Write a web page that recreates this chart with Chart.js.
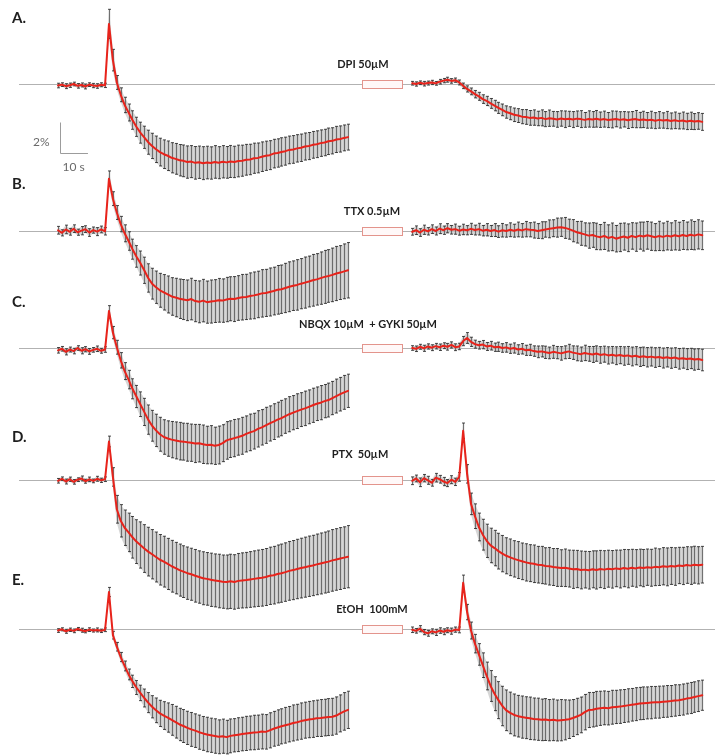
<!DOCTYPE html>
<html>
<head>
<meta charset="utf-8">
<title>Stimulus responses before / with drug</title>
<script src="https://cdn.jsdelivr.net/npm/chart.js@4.4.1/dist/chart.umd.min.js"></script>
<style>
    html, body { margin: 0; padding: 0; background: #ffffff; overflow: hidden; }
    #wrap { position: relative; width: 715px; height: 755px; }
</style>
</head>
<body>
<div id="wrap"><canvas id="traces" width="715" height="755"></canvas></div>
<script>
// sampling interval (s); the recording with drug starts later on the same time axis
const DT = 1.4;
const RIGHT_T0 = 126.5;
const DRUG_ON = 108.6;
const DRUG_OFF = 122.9;

const panels = ['A.', 'B.', 'C.', 'D.', 'E.'];
const drugs = ['DPI 50µM', 'TTX 0.5µM', 'NBQX 10µM  + GYKI 50µM', 'PTX  50µM', 'EtOH  100mM'];

// mean change (%) and error, left = control recording, right = with drug
const aLeft = [-0.10,-0.04,-0.14,-0.08,0.00,-0.12,-0.06,-0.16,-0.04,-0.10,-0.13,-0.05,-0.09,
    3.90,1.55,0.10,-0.70,-1.36,-1.85,-2.34,-2.78,-3.16,-3.46,-3.78,-4.02,-4.24,-4.42,-4.56,-4.66,-4.79,-4.86,
    -4.95,-4.99,-5.07,-5.04,-5.12,-5.08,-5.14,-5.10,-5.13,-5.06,-5.11,-5.05,-5.09,-5.03,-5.06,-5.00,-4.98,-4.92,
    -4.90,-4.82,-4.80,-4.72,-4.66,-4.62,-4.52,-4.48,-4.41,-4.36,-4.28,-4.25,-4.18,-4.14,-4.06,-4.03,-3.95,-3.91,
    -3.84,-3.80,-3.72,-3.69,-3.60,-3.57,-3.50,-3.45];
const aLeftErr = [0.15,0.12,0.16,0.14,0.12,0.15,0.13,0.16,0.12,0.14,0.15,0.13,0.14,
    0.95,0.70,0.45,0.45,0.50,0.55,0.60,0.62,0.68,0.72,0.78,0.82,0.86,0.90,0.93,0.96,0.98,1.00,1.02,1.03,
    1.05,1.04,1.06,1.05,1.07,1.06,1.05,1.06,1.04,1.05,1.03,1.04,1.02,1.03,1.01,1.00,0.99,0.98,0.97,0.96,
    0.95,0.94,0.93,0.92,0.92,0.91,0.90,0.90,0.89,0.89,0.88,0.88,0.87,0.87,0.86,0.86,0.86,0.85,0.85,0.85,0.84,0.84];
const aRight = [0.05,0.00,0.08,0.02,0.06,0.10,0.04,0.15,0.22,0.28,0.20,0.25,0.10,
    -0.12,-0.32,-0.48,-0.66,-0.80,-0.98,-1.10,-1.26,-1.40,-1.55,-1.68,-1.82,-1.90,-2.00,-2.05,-2.12,-2.14,-2.20,
    -2.18,-2.24,-2.20,-2.28,-2.22,-2.26,-2.30,-2.24,-2.29,-2.26,-2.31,-2.25,-2.28,-2.33,-2.27,-2.30,-2.26,-2.32,
    -2.28,-2.34,-2.30,-2.27,-2.33,-2.29,-2.35,-2.31,-2.28,-2.34,-2.30,-2.36,-2.32,-2.38,-2.33,-2.37,-2.34,-2.40,
    -2.36,-2.41,-2.37,-2.43,-2.39,-2.44,-2.40,-2.46];
const aRightErr = [0.12,0.14,0.12,0.15,0.13,0.14,0.12,0.15,0.14,0.16,0.15,0.14,0.16,
    0.18,0.20,0.22,0.24,0.26,0.28,0.30,0.32,0.34,0.36,0.38,0.40,0.42,0.44,0.45,0.46,0.48,0.48,
    0.50,0.47,0.52,0.49,0.53,0.48,0.51,0.50,0.54,0.49,0.52,0.50,0.55,0.48,0.53,0.51,0.54,0.50,0.52,0.49,
    0.55,0.51,0.53,0.50,0.54,0.52,0.56,0.50,0.53,0.51,0.55,0.52,0.54,0.50,0.56,0.52,0.54,0.51,0.55,0.53,
    0.56,0.52,0.54,0.55];

const bLeft = [0.05,-0.12,0.10,-0.05,0.15,-0.08,0.02,0.12,-0.10,0.06,-0.04,0.10,-0.02,
    3.40,2.10,1.20,0.45,-0.15,-0.65,-1.18,-1.65,-2.08,-2.55,-3.05,-3.42,-3.65,-3.85,-3.98,-4.12,-4.25,-4.32,
    -4.40,-4.45,-4.50,-4.42,-4.55,-4.60,-4.52,-4.62,-4.58,-4.55,-4.50,-4.52,-4.45,-4.40,-4.42,-4.35,-4.30,-4.28,
    -4.22,-4.18,-4.12,-4.05,-4.02,-3.96,-3.90,-3.82,-3.78,-3.70,-3.62,-3.55,-3.50,-3.42,-3.35,-3.28,-3.20,-3.14,
    -3.06,-2.98,-2.92,-2.85,-2.76,-2.70,-2.62,-2.55];
const bLeftErr = [0.25,0.20,0.28,0.22,0.25,0.20,0.27,0.22,0.25,0.20,0.26,0.22,0.24,
    0.50,0.45,0.45,0.50,0.55,0.60,0.65,0.70,0.78,0.85,0.92,1.00,1.05,1.10,1.15,1.20,1.22,1.25,1.28,1.30,
    1.32,1.35,1.34,1.36,1.38,1.37,1.40,1.39,1.42,1.41,1.44,1.43,1.46,1.45,1.48,1.47,1.50,1.52,1.51,1.54,
    1.53,1.56,1.55,1.58,1.57,1.60,1.62,1.61,1.64,1.63,1.66,1.65,1.68,1.67,1.70,1.72,1.71,1.74,1.76,1.75,1.78,1.80];
const bRight = [-0.05,0.05,-0.10,0.08,-0.02,0.12,0.00,0.15,0.05,0.18,0.08,0.12,0.02,0.10,0.05,0.14,0.06,0.12,
    0.02,0.08,0.00,0.06,-0.04,0.05,0.00,0.08,0.02,0.10,0.04,0.12,0.08,0.06,0.00,0.05,0.10,0.14,0.18,0.22,0.25,
    0.20,0.12,0.02,-0.08,-0.15,-0.22,-0.30,-0.26,-0.35,-0.40,-0.32,-0.45,-0.38,-0.50,-0.42,-0.36,-0.44,-0.32,
    -0.40,-0.30,-0.36,-0.28,-0.34,-0.40,-0.32,-0.38,-0.30,-0.36,-0.28,-0.34,-0.26,-0.32,-0.24,-0.30,-0.22,-0.28];
const bRightErr = [0.22,0.28,0.25,0.30,0.24,0.28,0.26,0.32,0.27,0.30,0.28,0.33,0.29,0.34,0.30,0.36,0.32,0.38,
    0.34,0.40,0.36,0.42,0.38,0.44,0.40,0.45,0.42,0.48,0.44,0.50,0.46,0.52,0.48,0.55,0.50,0.58,0.55,0.62,0.60,
    0.68,0.65,0.72,0.70,0.78,0.75,0.82,0.80,0.86,0.82,0.88,0.85,0.90,0.86,0.92,0.88,0.90,0.86,0.92,0.88,0.94,
    0.90,0.92,0.88,0.95,0.90,0.93,0.89,0.95,0.91,0.94,0.90,0.96,0.92,0.95,0.93];

const cLeft = [-0.15,-0.05,-0.25,-0.10,-0.20,0.00,-0.18,-0.08,-0.22,-0.12,-0.05,-0.18,-0.10,
    2.40,1.00,0.05,-0.80,-1.50,-2.05,-2.65,-3.15,-3.65,-4.15,-4.65,-5.05,-5.35,-5.60,-5.78,-5.88,-5.95,-6.00,
    -6.05,-6.08,-6.12,-6.15,-6.20,-6.18,-6.25,-6.30,-6.28,-6.35,-6.30,-6.18,-6.00,-5.92,-5.85,-5.78,-5.70,-5.58,
    -5.48,-5.40,-5.25,-5.15,-5.02,-4.90,-4.78,-4.65,-4.55,-4.42,-4.30,-4.20,-4.10,-4.00,-3.92,-3.82,-3.72,-3.62,
    -3.55,-3.45,-3.38,-3.25,-3.12,-3.00,-2.88,-2.78];
const cLeftErr = [0.18,0.15,0.20,0.16,0.18,0.15,0.20,0.17,0.19,0.15,0.18,0.16,0.18,
    0.35,0.40,0.45,0.50,0.55,0.60,0.65,0.72,0.80,0.88,0.95,1.00,1.05,1.10,1.12,1.15,1.18,1.20,1.22,1.20,
    1.23,1.21,1.24,1.22,1.25,1.22,1.24,1.21,1.23,1.20,1.22,1.19,1.21,1.18,1.20,1.17,1.19,1.16,1.18,1.15,
    1.17,1.14,1.16,1.13,1.15,1.12,1.14,1.11,1.13,1.10,1.12,1.10,1.11,1.09,1.11,1.08,1.10,1.08,1.10,1.09,1.10,1.08];
const cRight = [0.00,-0.05,0.08,-0.02,0.10,0.02,0.12,0.05,0.15,0.08,0.20,0.05,0.10,0.45,0.65,0.40,0.25,0.18,
    0.22,0.10,0.15,0.05,0.08,0.00,0.04,-0.05,0.00,-0.10,-0.05,-0.15,-0.12,-0.20,-0.25,-0.22,-0.28,-0.32,-0.25,
    -0.30,-0.35,-0.28,-0.22,-0.30,-0.35,-0.40,-0.32,-0.38,-0.42,-0.36,-0.45,-0.40,-0.48,-0.44,-0.50,-0.46,-0.52,
    -0.48,-0.55,-0.50,-0.58,-0.54,-0.60,-0.56,-0.62,-0.58,-0.65,-0.60,-0.66,-0.62,-0.70,-0.66,-0.72,-0.68,-0.75,
    -0.72,-0.78];
const cRightErr = [0.15,0.18,0.16,0.20,0.17,0.19,0.18,0.21,0.19,0.22,0.20,0.22,0.21,0.30,0.35,0.30,0.26,0.25,
    0.27,0.26,0.28,0.27,0.30,0.28,0.31,0.30,0.33,0.31,0.34,0.33,0.36,0.34,0.38,0.36,0.40,0.38,0.42,0.40,0.44,
    0.42,0.46,0.44,0.48,0.46,0.50,0.48,0.52,0.50,0.54,0.52,0.56,0.54,0.58,0.56,0.60,0.58,0.61,0.59,0.62,0.60,
    0.63,0.61,0.64,0.62,0.65,0.63,0.66,0.64,0.67,0.65,0.68,0.66,0.69,0.67,0.70];

const dLeft = [-0.05,0.08,-0.10,0.05,-0.12,0.02,0.10,-0.08,0.04,-0.06,0.08,-0.02,0.05,
    2.50,0.20,-1.90,-2.65,-3.10,-3.40,-3.72,-4.00,-4.22,-4.45,-4.65,-4.82,-5.00,-5.18,-5.30,-5.45,-5.60,-5.72,
    -5.85,-5.95,-6.05,-6.12,-6.22,-6.30,-6.38,-6.42,-6.48,-6.52,-6.56,-6.60,-6.62,-6.58,-6.62,-6.55,-6.52,-6.50,
    -6.46,-6.42,-6.38,-6.35,-6.30,-6.22,-6.18,-6.10,-6.05,-5.98,-5.90,-5.85,-5.78,-5.72,-5.66,-5.60,-5.55,-5.48,
    -5.42,-5.36,-5.30,-5.22,-5.16,-5.10,-5.04,-4.98];
const dLeftErr = [0.15,0.12,0.16,0.14,0.15,0.12,0.16,0.13,0.15,0.12,0.16,0.14,0.15,
    0.35,0.60,0.90,1.05,1.15,1.25,1.35,1.42,1.50,1.55,1.58,1.60,1.62,1.64,1.65,1.66,1.68,1.67,1.69,1.68,
    1.70,1.69,1.71,1.70,1.72,1.71,1.73,1.72,1.74,1.73,1.75,1.76,1.77,1.78,1.79,1.80,1.81,1.82,1.83,1.84,
    1.85,1.86,1.87,1.88,1.89,1.90,1.91,1.92,1.93,1.94,1.95,1.96,1.96,1.97,1.98,1.98,1.99,2.00,2.00,2.01,2.00,2.02];
const dRight = [-0.05,0.10,-0.15,0.12,-0.02,-0.18,0.15,0.05,-0.10,-0.20,0.02,-0.12,0.20,
    3.20,0.40,-1.55,-2.35,-3.05,-3.55,-3.95,-4.25,-4.42,-4.62,-4.78,-4.92,-5.02,-5.12,-5.20,-5.28,-5.35,-5.40,
    -5.44,-5.50,-5.52,-5.58,-5.60,-5.65,-5.68,-5.72,-5.70,-5.75,-5.80,-5.78,-5.84,-5.82,-5.86,-5.80,-5.84,-5.78,
    -5.82,-5.76,-5.80,-5.74,-5.78,-5.72,-5.76,-5.70,-5.74,-5.68,-5.72,-5.66,-5.70,-5.64,-5.66,-5.60,-5.64,-5.58,
    -5.62,-5.55,-5.58,-5.52,-5.56,-5.50,-5.54,-5.50];
const dRightErr = [0.25,0.22,0.28,0.24,0.26,0.22,0.28,0.25,0.27,0.23,0.26,0.24,0.28,
    0.50,0.60,0.70,0.80,0.90,1.00,1.08,1.12,1.15,1.16,1.18,1.17,1.19,1.18,1.20,1.19,1.21,1.20,1.22,1.19,
    1.21,1.18,1.22,1.20,1.23,1.19,1.22,1.20,1.24,1.21,1.23,1.19,1.22,1.20,1.24,1.21,1.23,1.20,1.22,1.19,
    1.23,1.21,1.24,1.20,1.22,1.19,1.21,1.18,1.20,1.22,1.19,1.21,1.23,1.20,1.22,1.18,1.21,1.19,1.22,1.20,1.21,1.19];

const eLeft = [-0.10,-0.02,-0.15,-0.05,-0.12,0.00,-0.08,-0.14,-0.04,-0.10,-0.06,-0.12,-0.05,
    2.40,-0.40,-1.15,-1.82,-2.40,-2.95,-3.40,-3.80,-4.15,-4.48,-4.78,-5.05,-5.28,-5.48,-5.62,-5.75,-5.90,-6.05,
    -6.20,-6.30,-6.42,-6.52,-6.60,-6.70,-6.78,-6.85,-6.90,-6.95,-7.00,-6.96,-7.02,-6.94,-6.90,-6.86,-6.82,-6.78,
    -6.75,-6.72,-6.70,-6.66,-6.68,-6.58,-6.48,-6.40,-6.32,-6.25,-6.18,-6.10,-6.05,-5.98,-5.92,-5.88,-5.85,-5.80,
    -5.78,-5.75,-5.72,-5.70,-5.62,-5.48,-5.35,-5.25];
const eLeftErr = [0.12,0.10,0.13,0.11,0.12,0.10,0.13,0.11,0.12,0.10,0.13,0.11,0.12,
    0.30,0.25,0.28,0.30,0.32,0.35,0.40,0.45,0.50,0.58,0.65,0.72,0.80,0.85,0.90,0.95,1.00,1.03,1.05,1.07,
    1.08,1.10,1.09,1.11,1.10,1.12,1.11,1.12,1.10,1.11,1.09,1.10,1.08,1.10,1.09,1.11,1.10,1.12,1.11,1.13,
    1.12,1.14,1.13,1.15,1.14,1.16,1.15,1.17,1.16,1.18,1.17,1.18,1.19,1.18,1.20,1.19,1.20,1.20,1.21,1.20,1.22,1.21];
const eRight = [-0.05,-0.12,0.02,-0.20,-0.28,-0.15,-0.22,-0.10,-0.18,-0.08,-0.14,-0.04,-0.06,
    3.00,1.10,-0.10,-0.95,-1.65,-2.35,-3.05,-3.70,-4.20,-4.62,-5.00,-5.28,-5.45,-5.58,-5.66,-5.72,-5.76,-5.80,
    -5.84,-5.86,-5.90,-5.88,-5.92,-5.90,-5.94,-5.92,-5.90,-5.86,-5.78,-5.68,-5.58,-5.40,-5.26,-5.24,-5.18,-5.15,
    -5.12,-5.14,-5.08,-5.06,-5.04,-5.00,-4.96,-4.92,-4.88,-4.84,-4.82,-4.80,-4.78,-4.76,-4.75,-4.72,-4.70,-4.68,
    -4.64,-4.62,-4.58,-4.52,-4.48,-4.42,-4.36,-4.30];
const eRightErr = [0.18,0.15,0.20,0.17,0.19,0.16,0.20,0.18,0.19,0.16,0.20,0.17,0.19,
    0.50,0.50,0.55,0.60,0.70,0.80,0.90,1.00,1.10,1.20,1.28,1.32,1.35,1.36,1.35,1.37,1.36,1.38,1.36,1.37,
    1.35,1.36,1.34,1.35,1.33,1.34,1.30,1.25,1.20,1.18,1.16,1.15,1.14,1.12,1.13,1.11,1.10,1.09,1.10,1.08,
    1.09,1.07,1.08,1.06,1.07,1.05,1.06,1.04,1.05,1.03,1.04,1.02,1.03,1.01,1.02,1.00,1.01,1.00,1.01,0.99,1.00,0.98];

// ---- layout (pixels) ----
const W = 715, H = 755;
const X0 = 58;              // pixel of t = 0
const PX_PER_S = 2.8;       // 10 s = 28 px
const PX_PER_PCT = 15.4;    // 2 % = ~31 px
const ROW_BASE = [84, 231, 348, 480, 629];
const LINE_START = 19;
const PANEL_Y = [18, 184, 302, 437, 580];
const DRUG_LABEL = [[363, 64], [372, 211], [368, 324], [360, 454], [372, 609]];
const DRUG_HALF = 0.29;     // half height of the drug bar, in %
const SCALE_BAR = { t: 0.7, y: -4.5 };

const RED = '#e8231b';

const traces = [
    [0, 0, aLeft, aLeftErr], [0, RIGHT_T0, aRight, aRightErr],
    [1, 0, bLeft, bLeftErr], [1, RIGHT_T0, bRight, bRightErr],
    [2, 0, cLeft, cLeftErr], [2, RIGHT_T0, cRight, cRightErr],
    [3, 0, dLeft, dLeftErr], [3, RIGHT_T0, dRight, dRightErr],
    [4, 0, eLeft, eLeftErr], [4, RIGHT_T0, eRight, eRightErr]
];

const datasets = traces.map(([row, t0, mean, err]) => ({
    data: mean.map((v, i) => ({ x: t0 + i * DT, y: v })),
    errors: err,
    yAxisID: 'y' + row,
    borderColor: RED,
    backgroundColor: RED,
    borderWidth: 2,
    pointRadius: 0,
    tension: 0,
    fill: false
}));

// one hidden y scale per row, all sharing the same %/px factor
const scales = {
    x: { type: 'linear', display: false, min: -X0 / PX_PER_S, max: (W - X0) / PX_PER_S }
};
ROW_BASE.forEach((b, r) => {
    scales['y' + r] = {
        type: 'linear', display: false,
        min: (b - H) / PX_PER_PCT, max: b / PX_PER_PCT
    };
});

// zero lines, drug bars, labels, scale bar
const decor = {
    id: 'decor',
    beforeDatasetsDraw(chart) {
        const { ctx, chartArea } = chart;
        const xs = chart.scales.x;
        ctx.save();
        ROW_BASE.forEach((_, r) => {
            const ys = chart.scales['y' + r];
            const y0 = Math.round(ys.getPixelForValue(0)) + 0.5;

            ctx.strokeStyle = '#b2b2b2';
            ctx.lineWidth = 1;
            ctx.beginPath();
            ctx.moveTo(LINE_START, y0);
            ctx.lineTo(chartArea.right, y0);
            ctx.stroke();

            const bx0 = Math.round(xs.getPixelForValue(DRUG_ON)) + 0.5;
            const bx1 = Math.round(xs.getPixelForValue(DRUG_OFF)) + 0.5;
            const by0 = Math.round(ys.getPixelForValue(DRUG_HALF)) + 0.5;
            const by1 = Math.round(ys.getPixelForValue(-DRUG_HALF)) + 0.5;
            ctx.fillStyle = '#fff8f8';
            ctx.fillRect(bx0, by0, bx1 - bx0, by1 - by0);
            ctx.strokeStyle = '#e3948c';
            ctx.strokeRect(bx0, by0, bx1 - bx0, by1 - by0);

            ctx.fillStyle = '#1e1e1e';
            ctx.textBaseline = 'middle';
            ctx.textAlign = 'left';
            ctx.font = 'bold 15px Lato, "Open Sans", sans-serif';
            ctx.fillText(panels[r], 12, PANEL_Y[r]);

            ctx.textAlign = 'center';
            ctx.font = 'bold 11px Lato, "Open Sans", sans-serif';
            ctx.fillText(drugs[r], DRUG_LABEL[r][0], DRUG_LABEL[r][1]);
        });

        // scale bar on panel A
        const ya = chart.scales.y0;
        const sx = Math.round(xs.getPixelForValue(SCALE_BAR.t)) + 0.5;
        const sx1 = xs.getPixelForValue(SCALE_BAR.t + 10);
        const sBot = Math.round(ya.getPixelForValue(SCALE_BAR.y)) + 0.5;
        const sTop = ya.getPixelForValue(SCALE_BAR.y + 2);
        ctx.strokeStyle = '#9c9c9c';
        ctx.lineWidth = 1;
        ctx.beginPath();
        ctx.moveTo(sx, sTop);
        ctx.lineTo(sx, sBot);
        ctx.lineTo(sx1, sBot);
        ctx.stroke();
        ctx.fillStyle = '#6a6a6a';
        ctx.font = '12px Lato, "Open Sans", sans-serif';
        ctx.textAlign = 'right';
        ctx.fillText('2%', sx - 11, (sTop + sBot) / 2 + 4);
        ctx.textAlign = 'left';
        ctx.fillText('10 s', sx + 2, sBot + 14);
        ctx.restore();
    }
};

// error band + vertical error bars with small caps, drawn under the mean lines
const errorBars = {
    id: 'errorBars',
    beforeDatasetsDraw(chart) {
        const ctx = chart.ctx;
        ctx.save();
        chart.data.datasets.forEach((ds, di) => {
            if (!ds.errors) return;
            const meta = chart.getDatasetMeta(di);
            const ys = chart.scales[ds.yAxisID];
            const pts = meta.data.map((pt, j) => {
                const v = ds.data[j].y;
                const e = ds.errors[j] || 0;
                return { x: pt.x, top: ys.getPixelForValue(v + e), bot: ys.getPixelForValue(v - e) };
            });

            // light grey fill between the bars
            ctx.fillStyle = 'rgba(200,200,200,0.75)';
            ctx.beginPath();
            pts.forEach((p, j) => j ? ctx.lineTo(p.x, p.top) : ctx.moveTo(p.x, p.top));
            for (let j = pts.length - 1; j >= 0; j--) ctx.lineTo(pts[j].x, pts[j].bot);
            ctx.closePath();
            ctx.fill();

            pts.forEach(p => {
                const x = Math.round(p.x) + 0.5;
                ctx.strokeStyle = 'rgba(90,90,90,0.85)';
                ctx.lineWidth = 1.2;
                ctx.beginPath();
                ctx.moveTo(x, p.top);
                ctx.lineTo(x, p.bot);
                ctx.stroke();
                ctx.strokeStyle = 'rgba(30,30,30,0.8)';
                ctx.lineWidth = 1;
                ctx.beginPath();
                ctx.moveTo(x - 1.5, p.top);
                ctx.lineTo(x + 1.5, p.top);
                ctx.moveTo(x - 1.5, p.bot);
                ctx.lineTo(x + 1.5, p.bot);
                ctx.stroke();
            });
        });
        ctx.restore();
    }
};

new Chart(document.getElementById('traces'), {
    type: 'line',
    data: { datasets: datasets },
    options: {
        responsive: false,
        animation: false,
        parsing: true,
        layout: { padding: 0 },
        scales: scales,
        plugins: {
            legend: { display: false },
            tooltip: { enabled: false },
            title: { display: false }
        },
        elements: { line: { borderJoinStyle: 'round', borderCapStyle: 'round' } }
    },
    plugins: [decor, errorBars]
});
</script>
</body>
</html>
